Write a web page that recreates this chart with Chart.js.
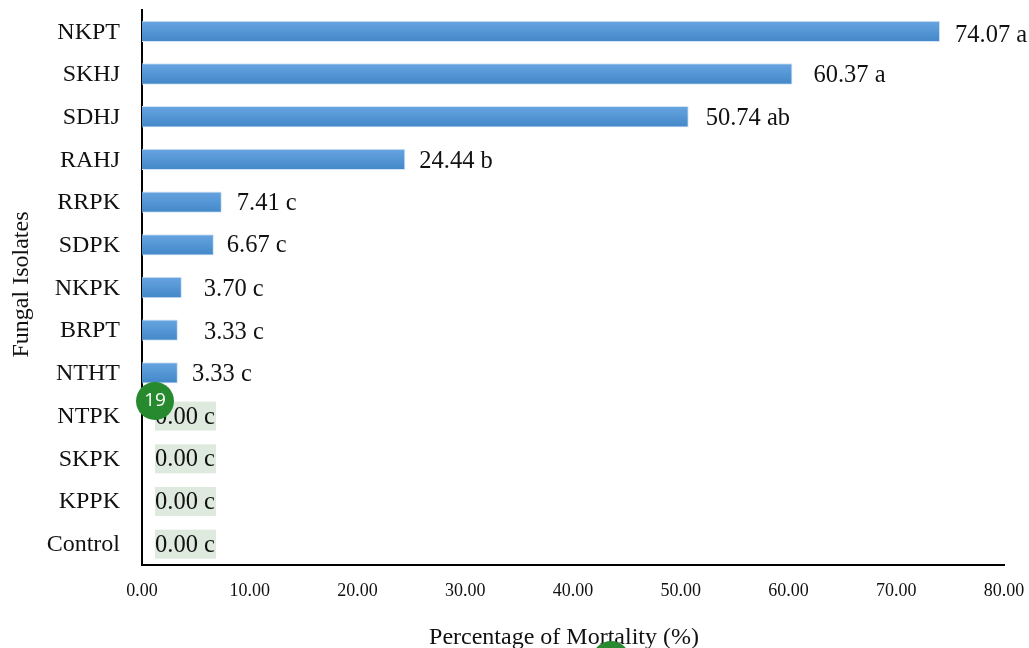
<!DOCTYPE html>
<html>
<head>
<meta charset="utf-8">
<title>Fungal Isolates Mortality</title>
<script src="https://cdn.jsdelivr.net/npm/chart.js@4/dist/chart.umd.min.js"></script>
<style>
  body { margin: 0; background: #fff; }
  canvas { display: block; }
</style>
</head>
<body>
<canvas id="mortalityChart" width="1029" height="648"></canvas>
<script>
const isolates = ['NKPT', 'SKHJ', 'SDHJ', 'RAHJ', 'RRPK', 'SDPK', 'NKPK', 'BRPT', 'NTHT', 'NTPK', 'SKPK', 'KPPK', 'Control'];
const mortality = [74.07, 60.37, 50.74, 24.44, 7.41, 6.67, 3.70, 3.33, 3.33, 0, 0, 0, 0];
const letters = ['a', 'a', 'ab', 'b', 'c', 'c', 'c', 'c', 'c', 'c', 'c', 'c', 'c'];
const xTicks = [0, 10, 20, 30, 40, 50, 60, 70, 80];

// gap in px between bar end and its label, they are not even in the original
const labelGaps = [15, 21, 17, 14, 15, 13, 22, 26, 14, 13, 13, 13, 13];
// same for the vertical nudge of each label
const labelDrops = [4, 2, 2, 2, 1, 1, 2, 2, 2, 2, 1, 2, 2];

const serif = '"Liberation Serif", serif';
const highlight = '#dfeadf';
const markerGreen = '#288a2e';

function barGradient(context) {
  const chart = context.chart;
  if (!chart.chartArea) return '#5b9bd5';
  const mid = chart.scales.y.getPixelForTick(context.dataIndex);
  const gradient = chart.ctx.createLinearGradient(0, mid - 10, 0, mid + 10);
  gradient.addColorStop(0, '#66a4e0');
  gradient.addColorStop(1, '#4388c9');
  return gradient;
}

// green highlight behind the zero labels
const highlights = {
  id: 'highlights',
  beforeDraw(chart) {
    const { ctx, scales } = chart;
    ctx.save();
    ctx.fillStyle = highlight;
    mortality.forEach((value, i) => {
      if (value !== 0) return;
      const start = scales.x.getPixelForValue(value) + labelGaps[i];
      const mid = scales.y.getPixelForTick(i);
      ctx.fillRect(start, mid - 14, 61, 29);
    });
    ctx.fillRect(scales.x.getPixelForValue(0) - 15, scales.x.bottom + 15, 33, 21);
    ctx.restore();
  }
};

const barLabels = {
  id: 'barLabels',
  afterDatasetsDraw(chart) {
    const { ctx, scales } = chart;
    ctx.save();
    ctx.font = '24.5px ' + serif;
    ctx.fillStyle = '#111';
    ctx.textAlign = 'left';
    ctx.textBaseline = 'middle';
    mortality.forEach((value, i) => {
      const x = scales.x.getPixelForValue(value) + labelGaps[i];
      ctx.fillText(value.toFixed(2) + ' ' + letters[i], x, scales.y.getPixelForTick(i) + labelDrops[i]);
    });
    ctx.restore();
  }
};

// the two round markers sitting on top of the figure
const markers = {
  id: 'markers',
  afterDraw(chart) {
    const ctx = chart.ctx;
    ctx.save();
    ctx.fillStyle = markerGreen;
    ctx.beginPath();
    ctx.arc(155, 401, 19, 0, Math.PI * 2);
    ctx.fill();
    ctx.beginPath();
    ctx.arc(611, 660, 19, 0, Math.PI * 2);
    ctx.fill();
    ctx.fillStyle = '#fff';
    ctx.font = '19px "Open Sans", sans-serif';
    ctx.textAlign = 'center';
    ctx.textBaseline = 'middle';
    ctx.fillText('19', 155, 401);
    ctx.restore();
  }
};

new Chart(document.getElementById('mortalityChart').getContext('2d'), {
  type: 'bar',
  data: {
    labels: isolates,
    datasets: [{
      label: 'Percentage of Mortality (%)',
      data: mortality,
      backgroundColor: barGradient,
      borderColor: '#d5e5f4',
      borderWidth: 1,
      barPercentage: 0.5,
      categoryPercentage: 1
    }]
  },
  options: {
    indexAxis: 'y',
    responsive: false,
    animation: false,
    layout: { padding: { top: 10, right: 25 } },
    plugins: { legend: { display: false }, tooltip: { enabled: false } },
    scales: {
      x: {
        min: 0,
        max: 80,
        // tick padding also leaks into the scale padding, zero it so the plot keeps its size
        afterFit(scale) {
          scale.height = 83;
          scale.paddingLeft = 0;
          scale.paddingRight = 0;
        },
        afterBuildTicks(scale) { scale.ticks = xTicks.map(value => ({ value })); },
        grid: { display: false, drawTicks: false },
        border: { color: '#000', width: 2 },
        ticks: {
          padding: 15,
          maxRotation: 0,
          color: '#111',
          font: { family: serif, size: 18 },
          callback: value => value.toFixed(2)
        },
        title: {
          display: true,
          text: 'Percentage of Mortality (%)   ', // trailing spaces pull it left of centre
          color: '#111',
          font: { family: serif, size: 24 },
          padding: { top: 0, bottom: -4 }
        }
      },
      y: {
        afterFit(scale) {
          scale.width = 142;
          scale.paddingTop = 0;
          scale.paddingBottom = 0;
        },
        grid: { display: false, drawTicks: false },
        border: { color: '#000', width: 2 },
        ticks: {
          padding: 22,
          labelOffset: 1,
          autoSkip: false,
          color: '#111',
          font: { family: serif, size: 24 }
        },
        title: {
          display: true,
          text: ' Fungal Isolates',
          color: '#111',
          font: { family: serif, size: 24 },
          padding: { top: 7, bottom: 0 }
        }
      }
    }
  },
  plugins: [highlights, barLabels, markers]
});
</script>
</body>
</html>
